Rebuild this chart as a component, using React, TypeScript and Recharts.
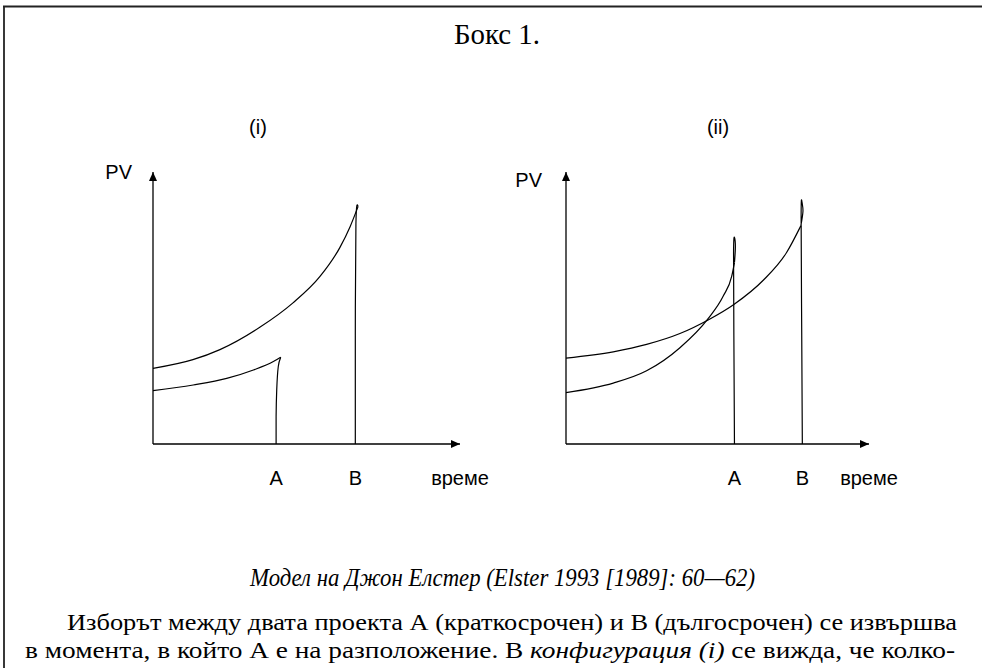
import { LineChart, Line, XAxis, YAxis, ReferenceDot } from 'recharts'

// tick labels on the time axis: project A, project B, axis name
const timeTickNames = ['A', 'B', 'време']

// (i) long project B: present value as seen at each moment
const leftLongCurve = [
  { x: 0, y: 27.8 },
  { x: 13.0, y: 31.0 },
  { x: 21.8, y: 34.7 },
  { x: 34.9, y: 43.0 },
  { x: 45.6, y: 51.9 },
  { x: 54.4, y: 61.6 },
  { x: 60.9, y: 72.3 },
  { x: 64.2, y: 79.9 },
  { x: 66.8, y: 87.3 },
]
const leftLongDrop = [
  { x: 66.8, y: 87.3 },
  { x: 66.1, y: 81 },
  { x: 65.9, y: 40 },
  { x: 65.9, y: 0 },
]
// (i) short project A
const leftShortCurve = [
  { x: 0, y: 19.6 },
  { x: 13.1, y: 21.7 },
  { x: 24.0, y: 24.1 },
  { x: 32.7, y: 27.2 },
  { x: 39.2, y: 30.3 },
  { x: 41.6, y: 31.9 },
]
const leftShortDrop = [
  { x: 41.6, y: 31.9 },
  { x: 40.8, y: 28.4 },
  { x: 40.3, y: 19.9 },
  { x: 40.1, y: 10 },
  { x: 40.1, y: 0 },
]
const leftTicks = [40.1, 65.9, 100]

// (ii) short project A, steep
const rightShortCurve = [
  { x: 0, y: 18.9 },
  { x: 15.6, y: 22.4 },
  { x: 26.6, y: 26.9 },
  { x: 37.6, y: 35.4 },
  { x: 46.9, y: 46.1 },
  { x: 51.9, y: 54.4 },
  { x: 54.7, y: 61.7 },
  { x: 55.6, y: 66.7 },
]
const rightShortSpike = [
  { x: 55.6, y: 66.7 },
  { x: 55.9, y: 72.5 },
  { x: 55.6, y: 75.9 },
  { x: 55.3, y: 70 },
  { x: 55.4, y: 40 },
  { x: 55.6, y: 0 },
]
// (ii) long project B
const rightLongCurve = [
  { x: 0, y: 31.6 },
  { x: 15.6, y: 33.9 },
  { x: 26.6, y: 36.6 },
  { x: 37.6, y: 40.6 },
  { x: 46.9, y: 45.6 },
  { x: 55.4, y: 51.3 },
  { x: 65.1, y: 60.2 },
  { x: 72.8, y: 70.4 },
  { x: 77.5, y: 80.2 },
]
const rightLongSpike = [
  { x: 77.5, y: 80.2 },
  { x: 78.2, y: 85.5 },
  { x: 77.9, y: 88.8 },
  { x: 77.6, y: 83 },
  { x: 77.8, y: 40 },
  { x: 78.0, y: 0 },
]
const rightTicks = [55.6, 78.0, 100]

const sans = '"Liberation Sans", Arial, sans-serif'
const serif = '"Liberation Serif", "Times New Roman", serif'

const xArrow = (p: any) => (
  <path d={`M${p.cx},${p.cy} L${p.cx - 9},${p.cy - 4} L${p.cx - 9},${p.cy + 4} Z`} fill="#000" />
)
const yArrow = (p: any) => (
  <path d={`M${p.cx},${p.cy} L${p.cx - 4},${p.cy + 9} L${p.cx + 4},${p.cy + 9} Z`} fill="#000" />
)

type PanelProps = {
  left: number
  yAxisWidth: number
  rightMargin: number
  pvTick: number
  pvMargin: number
  ticks: number[]
  series: Array<Array<{ x: number; y: number }>>
  curveTypes: Array<'monotone' | 'natural'>
}

function Panel({ left, yAxisWidth, rightMargin, pvTick, pvMargin, ticks, series, curveTypes }: PanelProps) {
  return (
    <div style={{ position: 'absolute', left, top: 140, width: 440, height: 380 }}>
      <LineChart width={440} height={380} margin={{ top: 32, right: rightMargin, bottom: 36, left: 0 }}>
        <XAxis
          type="number"
          dataKey="x"
          domain={[0, 100]}
          ticks={ticks}
          interval={0}
          allowDataOverflow
          height={40}
          tickLine={false}
          tickMargin={21}
          tickFormatter={(_v: number, i: number) => timeTickNames[i]}
          axisLine={{ stroke: '#000', strokeWidth: 1.3 }}
          tick={{ fill: '#000', fontSize: 20, fontFamily: sans }}
        />
        <YAxis
          type="number"
          dataKey="y"
          domain={[0, 100]}
          ticks={[pvTick]}
          allowDataOverflow
          width={yAxisWidth}
          tickLine={false}
          tickMargin={pvMargin}
          tickFormatter={() => 'PV'}
          axisLine={{ stroke: '#000', strokeWidth: 1.3 }}
          tick={{ fill: '#000', fontSize: 20, fontFamily: sans }}
        />
        {series.map((d, i) => (
          <Line
            key={i}
            data={d}
            dataKey="y"
            type={curveTypes[i]}
            stroke="#000"
            strokeWidth={1.2}
            dot={false}
            activeDot={false}
            isAnimationActive={false}
          />
        ))}
        <ReferenceDot x={100} y={0} r={0} ifOverflow="visible" shape={xArrow} />
        <ReferenceDot x={0} y={100} r={0} ifOverflow="visible" shape={yArrow} />
      </LineChart>
    </div>
  )
}

export default function App() {
  return (
    <div style={{ position: 'absolute', left: 0, top: 0, width: 982, height: 668, background: '#fff', overflow: 'hidden' }}>
      <svg width={982} height={668} style={{ position: 'absolute', left: 0, top: 0 }}>
        <line x1={3} y1={6.5} x2={982} y2={6.5} stroke="#222" strokeWidth={1.8} />
        <line x1={4} y1={6} x2={4} y2={668} stroke="#222" strokeWidth={1.8} />
        <text x={497} y={44} textAnchor="middle" fontFamily={serif} fontSize={29} fill="#000" textLength={86} lengthAdjust="spacingAndGlyphs">
          Бокс 1.
        </text>
        <text x={258} y={134} textAnchor="middle" fontFamily={sans} fontSize={20} fill="#000">
          (i)
        </text>
        <text x={718} y={134} textAnchor="middle" fontFamily={sans} fontSize={20} fill="#000">
          (ii)
        </text>
        <text
          x={250}
          y={586}
          fontFamily={serif}
          fontStyle="italic"
          fontSize={26}
          fill="#000"
          textLength={505}
          lengthAdjust="spacingAndGlyphs"
        >
          Модел на Джон Елстер (Elster 1993 [1989]: 60—62)
        </text>
        <text x={67} y={630} fontFamily={serif} fontSize={24} fill="#000" textLength={890} lengthAdjust="spacingAndGlyphs">
          Изборът между двата проекта А (краткосрочен) и В (дългосрочен) се извършва
        </text>
        <text x={25} y={658} fontFamily={serif} fontSize={24} fill="#000" textLength={930} lengthAdjust="spacingAndGlyphs">
          в момента, в който А е на разположение. В <tspan fontStyle="italic">конфигурация (i)</tspan> се вижда, че колко-
        </text>
      </svg>
      <Panel
        left={60}
        yAxisWidth={93}
        rightMargin={40}
        pvTick={100}
        pvMargin={15}
        ticks={leftTicks}
        series={[leftLongCurve, leftLongDrop, leftShortCurve, leftShortDrop]}
        curveTypes={['monotone', 'natural', 'monotone', 'natural']}
      />
      <Panel
        left={480}
        yAxisWidth={86}
        rightMargin={51}
        pvTick={97}
        pvMargin={18}
        ticks={rightTicks}
        series={[rightShortCurve, rightShortSpike, rightLongCurve, rightLongSpike]}
        curveTypes={['monotone', 'natural', 'monotone', 'natural']}
      />
    </div>
  )
}
